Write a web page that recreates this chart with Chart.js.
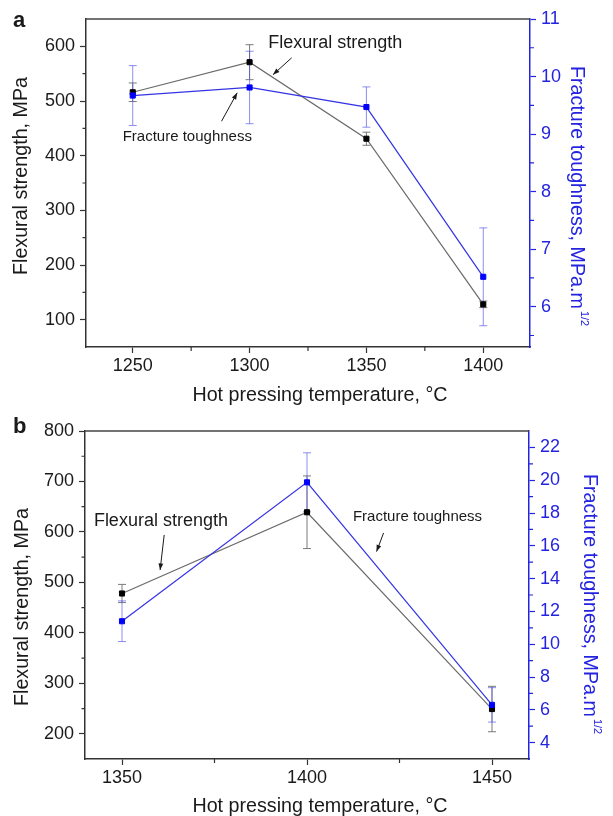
<!DOCTYPE html>
<html>
  <head>
    <title>Flexural strength and fracture toughness vs hot pressing temperature</title>
    <script src="https://cdn.jsdelivr.net/npm/chart.js@4.4.1/dist/chart.umd.min.js"></script>
    <style>
      body { margin: 0; background: #fff; }
      .panel { position: absolute; left: 0; }
    </style>
  </head>
  <body>
    <div class="panel" style="top:0"><canvas id="chartA" width="613" height="410"></canvas></div>
    <div class="panel" style="top:410px"><canvas id="chartB" width="613" height="406"></canvas></div>

    <script>
      // panel a data
      const tempsA = [1250, 1300, 1350, 1400];
      const strengthA = [516, 571, 431, 128];
      const strengthErrA = [17, 32, 12, 6];
      const toughnessA = [9.67, 9.81, 9.47, 6.52];
      const toughnessErrA = [0.52, 0.63, 0.35, 0.85];

      // panel b data
      const tempsB = [1350, 1400, 1450];
      const strengthB = [478, 639, 249];
      const strengthErrB = [18, 72, 45];
      const toughnessB = [11.4, 19.87, 6.3];
      const toughnessErrB = [1.24, 1.8, 1.05];

      // tick labels
      const xTicksA = [1250, 1300, 1350, 1400];
      const xMinorA = [1275, 1325, 1375];
      const leftTicksA = [100, 200, 300, 400, 500, 600];
      const leftMinorA = [150, 250, 350, 450, 550];
      const rightTicksA = [6, 7, 8, 9, 10, 11];
      const rightMinorA = [5.5, 6.5, 7.5, 8.5, 9.5, 10.5];

      const xTicksB = [1350, 1400, 1450];
      const xMinorB = [1375, 1425];
      const leftTicksB = [200, 300, 400, 500, 600, 700, 800];
      const leftMinorB = [250, 350, 450, 550, 650, 750];
      const rightTicksB = [4, 6, 8, 10, 12, 14, 16, 18, 20, 22];
      const rightMinorB = [5, 7, 9, 11, 13, 15, 17, 19, 21];

      const FONT = "'Liberation Sans', Arial, sans-serif";
      const INK = "#1a1a1a";
      const BLUE = "#2424e0";
      Chart.defaults.font.family = FONT;
      Chart.defaults.color = INK;

      function pts(xs, ys) {
        return xs.map((x, i) => ({ x: x, y: ys[i] }));
      }

      function fixedTicks(list) {
        return (scale) => { scale.ticks = list.map(v => ({ value: v })); };
      }

      // error bars, minor ticks, frame, titles and notes
      function decor(cfg) {
        return {
          id: "decor",
          beforeDatasetsDraw(chart) {
            const ctx = chart.ctx;
            const x = chart.scales.x;
            cfg.errors.forEach(e => {
              const ys = chart.scales[e.axis];
              ctx.save();
              ctx.strokeStyle = e.color;
              ctx.lineWidth = 1;
              e.temps.forEach((t, i) => {
                const px = x.getPixelForValue(t);
                const top = ys.getPixelForValue(e.values[i] + e.err[i]);
                const bot = ys.getPixelForValue(e.values[i] - e.err[i]);
                ctx.beginPath();
                ctx.moveTo(px, top); ctx.lineTo(px, bot);
                ctx.moveTo(px - 4, top); ctx.lineTo(px + 4, top);
                ctx.moveTo(px - 4, bot); ctx.lineTo(px + 4, bot);
                ctx.stroke();
              });
              ctx.restore();
            });
          },
          afterDraw(chart) {
            const ctx = chart.ctx;
            const a = chart.chartArea;
            const x = chart.scales.x, yl = chart.scales.y, yr = chart.scales.y1;
            ctx.save();

            // top frame line
            ctx.strokeStyle = "#444";
            ctx.lineWidth = 1.5;
            ctx.beginPath();
            ctx.moveTo(a.left, a.top); ctx.lineTo(a.right, a.top);
            ctx.stroke();

            // minor ticks
            ctx.lineWidth = 1.2;
            ctx.strokeStyle = "#333";
            ctx.beginPath();
            cfg.xMinor.forEach(v => {
              const p = x.getPixelForValue(v);
              ctx.moveTo(p, a.bottom); ctx.lineTo(p, a.bottom + 4);
            });
            cfg.leftMinor.forEach(v => {
              const p = yl.getPixelForValue(v);
              ctx.moveTo(a.left, p); ctx.lineTo(a.left - 3.5, p);
            });
            ctx.stroke();
            ctx.strokeStyle = BLUE;
            ctx.beginPath();
            cfg.rightMinor.forEach(v => {
              const p = yr.getPixelForValue(v);
              ctx.moveTo(a.right, p); ctx.lineTo(a.right + 4, p);
            });
            ctx.stroke();

            // panel letter
            ctx.fillStyle = INK;
            ctx.font = "bold 22px " + FONT;
            ctx.textAlign = "left";
            ctx.textBaseline = "alphabetic";
            ctx.fillText(cfg.letter, 13, cfg.letterY);

            // x title
            ctx.font = "19.7px " + FONT;
            ctx.textAlign = "center";
            ctx.fillText("Hot pressing temperature, \u00B0C", cfg.xTitle[0], cfg.xTitle[1]);

            // left title
            ctx.save();
            ctx.translate(cfg.leftTitle[0], cfg.leftTitle[1]);
            ctx.rotate(-Math.PI / 2);
            ctx.fillText("Flexural strength, MPa", 0, 0);
            ctx.restore();

            // right title with superscript
            ctx.save();
            ctx.fillStyle = BLUE;
            ctx.translate(cfg.rightTitle[0], cfg.rightTitle[1]);
            ctx.rotate(Math.PI / 2);
            ctx.textAlign = "left";
            const main = "Fracture toughness, MPa.m";
            ctx.fillText(main, 0, 0);
            const w = ctx.measureText(main).width;
            ctx.font = "11px " + FONT;
            ctx.fillText("1/2", w + 2, -10);
            ctx.restore();

            // notes with arrows
            cfg.notes.forEach(n => {
              ctx.fillStyle = INK;
              ctx.font = n.size + "px " + FONT;
              ctx.textAlign = "left";
              ctx.fillText(n.text, x.getPixelForValue(n.at[0]), yl.getPixelForValue(n.at[1]));
              const x0 = x.getPixelForValue(n.from[0]), y0 = yl.getPixelForValue(n.from[1]);
              const x1 = x.getPixelForValue(n.to[0]), y1 = yl.getPixelForValue(n.to[1]);
              const ang = Math.atan2(y1 - y0, x1 - x0);
              ctx.strokeStyle = INK;
              ctx.lineWidth = 1;
              ctx.beginPath();
              ctx.moveTo(x0, y0); ctx.lineTo(x1, y1);
              ctx.stroke();
              ctx.beginPath();
              ctx.moveTo(x1, y1);
              ctx.lineTo(x1 - 7 * Math.cos(ang - 0.35), y1 - 7 * Math.sin(ang - 0.35));
              ctx.lineTo(x1 - 7 * Math.cos(ang + 0.35), y1 - 7 * Math.sin(ang + 0.35));
              ctx.closePath();
              ctx.fill();
            });

            ctx.restore();
          }
        };
      }

      function makeChart(id, o) {
        const tickFont = { size: 18 };
        return new Chart(document.getElementById(id), {
          type: "line",
          data: {
            datasets: [
              {
                label: "Fracture toughness",
                data: pts(o.temps, o.toughness),
                yAxisID: "y1",
                order: 0,
                borderColor: "#3434e4",
                borderWidth: 1.2,
                pointStyle: "rect",
                pointRadius: 3.6,
                pointBorderWidth: 1,
                pointBackgroundColor: "#0000ff",
                pointBorderColor: "#0000ff",
                tension: 0
              },
              {
                label: "Flexural strength",
                data: pts(o.temps, o.strength),
                yAxisID: "y",
                order: 1,
                borderColor: "#6a6a6a",
                borderWidth: 1.2,
                pointStyle: "rect",
                pointRadius: 3.6,
                pointBorderWidth: 1,
                pointBackgroundColor: "#000",
                pointBorderColor: "#000",
                tension: 0
              }
            ]
          },
          options: {
            responsive: false,
            animation: false,
            events: [],
            layout: { padding: { top: o.padTop, left: 0, right: 0, bottom: 0 } },
            plugins: { legend: { display: false }, tooltip: { enabled: false } },
            scales: {
              x: {
                type: "linear",
                min: o.xRange[0], max: o.xRange[1],
                afterBuildTicks: fixedTicks(o.xTicks),
                afterFit: s => { s.height = o.xHeight; },
                grid: { drawOnChartArea: false, tickLength: 6, tickColor: "#333", tickWidth: 1.2 },
                border: { color: "#333", width: 1.5 },
                ticks: { font: tickFont, color: INK, padding: 2, maxRotation: 0, callback: v => String(v) }
              },
              y: {
                position: "left",
                min: o.leftRange[0], max: o.leftRange[1],
                afterBuildTicks: fixedTicks(o.leftTicks),
                afterFit: s => { s.width = o.leftWidth; },
                grid: { drawOnChartArea: false, tickLength: 6, tickColor: "#333", tickWidth: 1.2 },
                border: { color: "#333", width: 1.5 },
                ticks: { font: tickFont, color: INK, padding: 5, callback: v => String(v) }
              },
              y1: {
                position: "right",
                min: o.rightRange[0], max: o.rightRange[1],
                afterBuildTicks: fixedTicks(o.rightTicks),
                afterFit: s => { s.width = o.rightWidth; },
                grid: { drawOnChartArea: false, tickLength: 6, tickColor: BLUE, tickWidth: 1.2 },
                border: { color: BLUE, width: 1.5 },
                ticks: { font: tickFont, color: BLUE, padding: 5, callback: v => String(v) }
              }
            }
          },
          plugins: [decor(o.decor)]
        });
      }

      makeChart("chartA", {
        temps: tempsA, strength: strengthA, toughness: toughnessA,
        xRange: [1230, 1420], leftRange: [50, 650], rightRange: [5.3, 11],
        xTicks: xTicksA, leftTicks: leftTicksA, rightTicks: rightTicksA,
        padTop: 19, xHeight: 63, leftWidth: 86, rightWidth: 83,
        decor: {
          letter: "a", letterY: 27,
          xMinor: xMinorA, leftMinor: leftMinorA, rightMinor: rightMinorA,
          errors: [
            { axis: "y", temps: tempsA, values: strengthA, err: strengthErrA, color: "#7a7a7a" },
            { axis: "y1", temps: tempsA, values: toughnessA, err: toughnessErrA, color: "rgba(80,80,235,0.65)" }
          ],
          xTitle: [320, 401], leftTitle: [27, 176], rightTitle: [571, 66],
          notes: [
            { text: "Flexural strength", size: 18, at: [1308, 597], from: [1318, 579], to: [1310, 548] },
            { text: "Fracture toughness", size: 15, at: [1245.7, 426], from: [1288, 463], to: [1294.7, 515] }
          ]
        }
      });

      makeChart("chartB", {
        temps: tempsB, strength: strengthB, toughness: toughnessB,
        xRange: [1340, 1460], leftRange: [150, 800], rightRange: [3, 23],
        xTicks: xTicksB, leftTicks: leftTicksB, rightTicks: rightTicksB,
        padTop: 21, xHeight: 57, leftWidth: 85, rightWidth: 84,
        decor: {
          letter: "b", letterY: 23,
          xMinor: xMinorB, leftMinor: leftMinorB, rightMinor: rightMinorB,
          errors: [
            { axis: "y", temps: tempsB, values: strengthB, err: strengthErrB, color: "#7a7a7a" },
            { axis: "y1", temps: tempsB, values: toughnessB, err: toughnessErrB, color: "rgba(80,80,235,0.65)" }
          ],
          xTitle: [320, 402], leftTitle: [28, 197], rightTitle: [584, 64],
          notes: [
            { text: "Flexural strength", size: 18, at: [1342.4, 612.7], from: [1361.4, 594], to: [1360.3, 524.5] },
            { text: "Fracture toughness", size: 15, at: [1412.4, 622.6], from: [1420.7, 598], to: [1418.8, 561] }
          ]
        }
      });
    </script>
  </body>
</html>
